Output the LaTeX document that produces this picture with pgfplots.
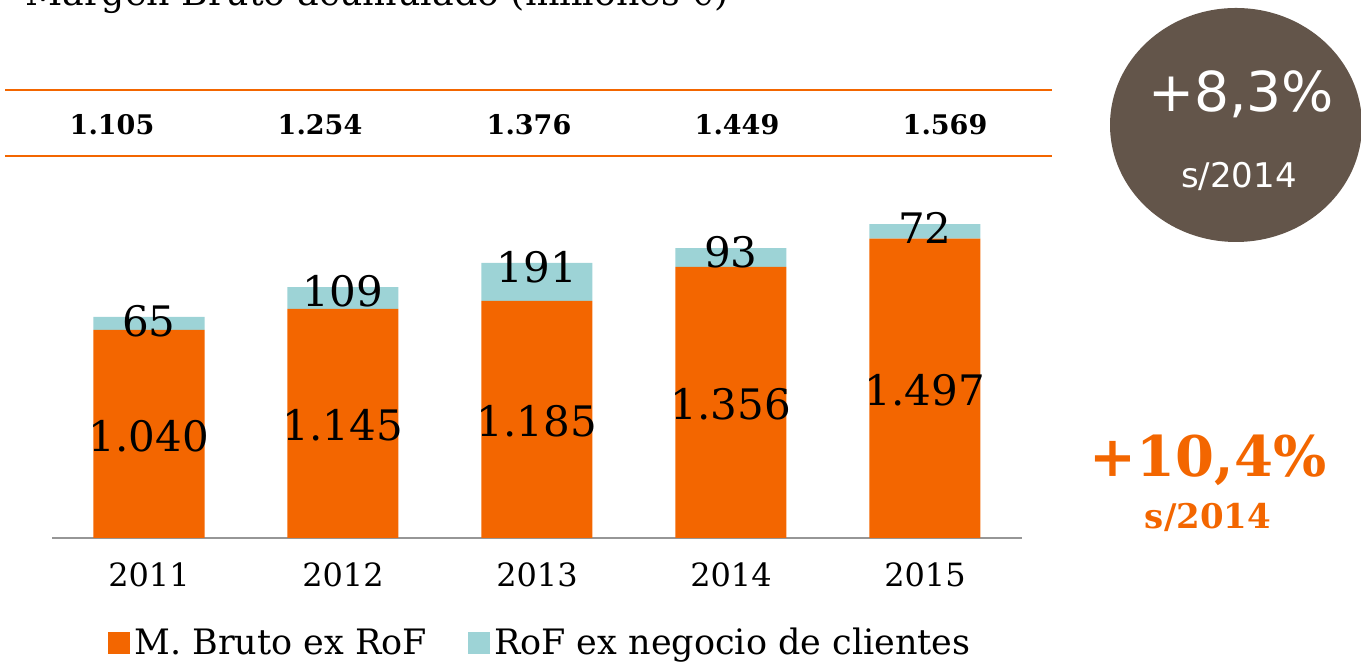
\documentclass[border=0pt]{standalone}
\usepackage{pgfplots}
\pgfplotsset{compat=1.18}
\usepackage{pgfplotstable}
\usepackage{fontspec}
\setmainfont{DejaVu Serif}
\newfontfamily\circfont{DejaVu Sans}
\definecolor{bkorange}{RGB}{243,102,0}
\definecolor{bkblue}{RGB}{157,211,214}
\definecolor{bkbrown}{RGB}{99,85,74}
\definecolor{axgray}{RGB}{150,150,150}

\pgfplotstableread{
x base rof lbase lrof
0 1040 65 1.040 65
1 1145 109 1.145 109
2 1185 191 1.185 191
3 1356 93 1.356 93
4 1497 72 1.497 72
}\datatable

\begin{document}
\begin{tikzpicture}
\useasboundingbox (0,0) rectangle (680.5pt,331pt);
\clip (0,0) rectangle (680.5pt,331pt);
\begin{scope}[x=0.5pt,y=-0.5pt,yshift=331pt]
 \node[anchor=base west, inner sep=0, font=\fontsize{18.2}{20}\selectfont] at (25,6) {Margen Bruto acumulado (millones €)};
 \draw[bkorange, line width=1.3pt] (5,90) -- (1052,90);
 \draw[bkorange, line width=1.3pt] (5,156) -- (1052,156);
 \foreach \xx/\tt in {112/1.105, 320/1.254, 529/1.376, 737/1.449, 945/1.569}
   \node[font=\bfseries\fontsize{13.5}{16}\selectfont, inner sep=0] at (\xx,125) {\tt};
 \fill[bkbrown] (1236,125) ellipse [x radius=63pt, y radius=58.5pt];
 \node[white, font=\circfont\fontsize{27.5}{30}\selectfont, inner sep=0] at (1241,94) {+8,3\%};
 \node[white, font=\circfont\fontsize{17}{20}\selectfont, inner sep=0] at (1239,176) {s/2014};
 \node[bkorange, font=\bfseries\fontsize{28}{32}\selectfont, inner sep=0] at (1208,460) {+10,4\%};
 \node[bkorange, font=\bfseries\fontsize{17}{20}\selectfont, inner sep=0] at (1208,517) {s/2014};
\end{scope}
\begin{axis}[
  at={(26pt,62pt)}, anchor=south west, scale only axis,
  width=485pt, height=184pt,
  xmin=-0.5, xmax=4.5, ymin=0, ymax=1840,
  ybar stacked, bar width=55.5pt,
  axis y line=none, axis x line*=bottom,
  x axis line style={axgray, line width=1pt, -},
  xtick=data, xticklabels={2011,2012,2013,2014,2015},
  major tick length=0pt,
  xticklabel style={font=\fontsize{16}{18}\selectfont, yshift=-9pt},
  /pgf/number format/assume math mode=true,
  clip=false,
  legend columns=2,
  legend style={at={(axis description cs:0.5046,-0.285)}, anchor=center, draw=none, fill=none, inner sep=0pt,
    font=\fontsize{17.5}{20}\selectfont,
    /tikz/every even column/.append style={column sep=18.5pt}},
  legend image code/.code={\fill[#1] (0pt,-5.5pt) rectangle (11pt,5.5pt);},
]
\addplot[fill=bkorange, draw=none,
  point meta=explicit symbolic,
  nodes near coords,
  every node near coord/.append style={anchor=center, black, font=\fontsize{21}{24}\selectfont, yshift=-1pt}]
  table[x=x, y=base, meta=lbase]{\datatable};
\addplot[fill=bkblue, draw=none,
  point meta=explicit symbolic,
  visualization depends on={rawy \as \rval},
  nodes near coords,
  every node near coord/.append style={anchor=center, black, font=\fontsize{21}{24}\selectfont, yshift=\rval*0.05pt-2pt}]
  table[x=x, y=rof, meta=lrof]{\datatable};
\legend{M. Bruto ex RoF, RoF ex negocio de clientes}
\end{axis}
\end{tikzpicture}
\end{document}
